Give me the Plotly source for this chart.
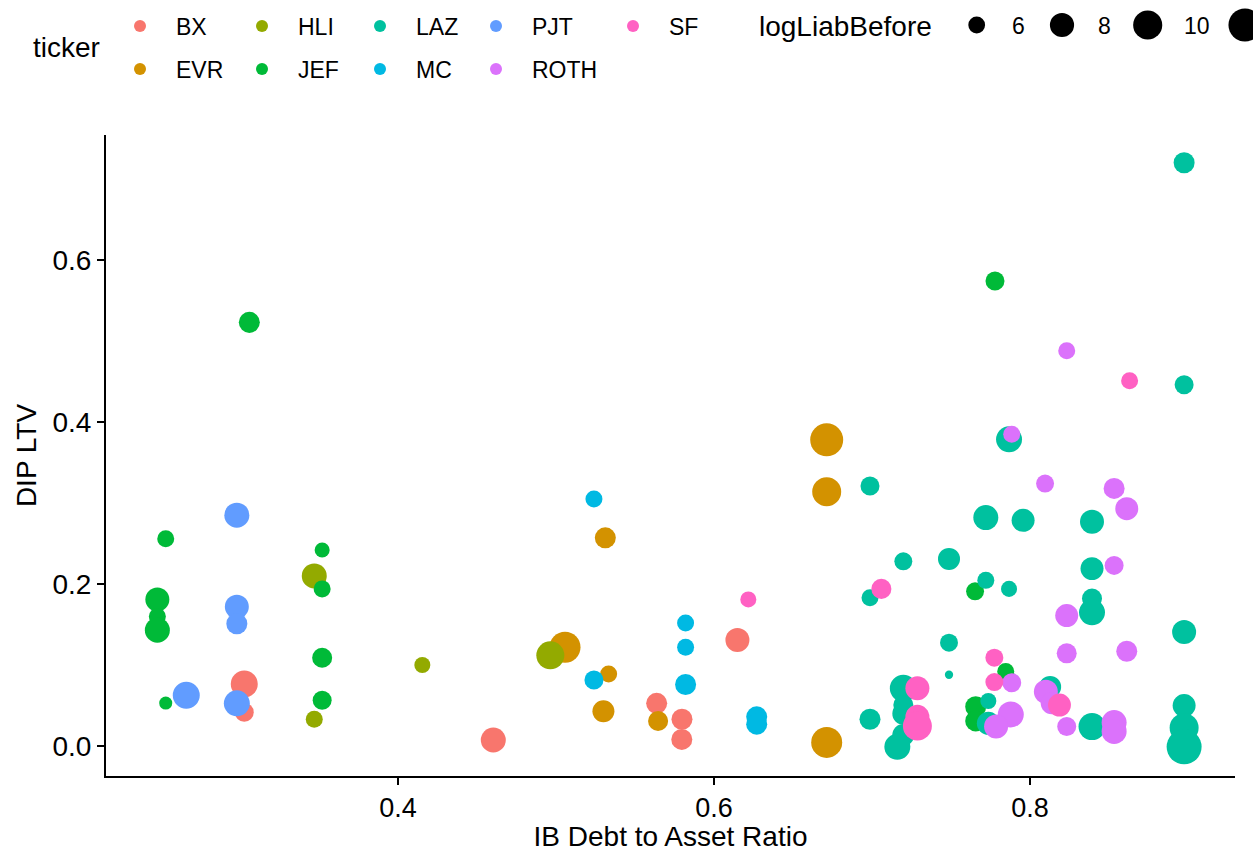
import numpy as np
import plotly.graph_objects as go

# ---------------- data ----------------
tickers = ["BX", "EVR", "HLI", "JEF", "LAZ", "MC", "PJT", "ROTH", "SF"]
colors = ["#F8766D", "#D39200", "#93AA00", "#00BA38", "#00C19F",
          "#00B9E3", "#619CFF", "#DB72FB", "#FF61C3"]

BX_x = [0.3027, 0.3027, 0.4603, 0.5637, 0.5797, 0.5796, 0.6148]
BX_y = [0.0765, 0.0416, 0.0074, 0.0527, 0.033, 0.0082, 0.131]
BX_s = [9.07, 6.47, 8.29, 6.99, 6.99, 6.99, 7.93]

EVR_x = [0.5312, 0.5057, 0.5333, 0.530, 0.5646, 0.6713, 0.6713, 0.6713]
EVR_y = [0.257, 0.122, 0.0889, 0.043, 0.0309, 0.378, 0.314, 0.0045]
EVR_s = [6.99, 10.9, 6.04, 7.28, 6.72, 11.96, 9.95, 10.91]

HLI_x = [0.347, 0.4154, 0.347, 0.4964]
HLI_y = [0.210, 0.100, 0.033, 0.112]
HLI_s = [8.29, 5.86, 6.04, 9.5]

JEF_x = [0.253, 0.2477, 0.2477, 0.2477, 0.253, 0.3059, 0.352, 0.352, 0.352, 0.352,
         0.7778, 0.7652, 0.7846, 0.7852, 0.7656, 0.7656]
JEF_y = [0.256, 0.181, 0.160, 0.143, 0.053, 0.523, 0.242, 0.194, 0.109, 0.0564,
         0.574, 0.191, 0.092, 0.085, 0.0486, 0.031]
JEF_s = [6.04, 7.93, 6.04, 8.29, 5.45, 6.99, 5.7, 6.04, 6.72, 6.47,
         6.47, 6.24, 6.04, 6.04, 6.99, 6.99]

LAZ_x = [0.6987, 0.7198, 0.7487, 0.6987, 0.7487, 0.7487, 0.7198, 0.7198, 0.7198, 0.7198,
         0.716, 0.6987, 0.7867, 0.772, 0.7956, 0.8392, 0.8392, 0.772, 0.7867, 0.8392,
         0.8392, 0.8975, 0.7736, 0.7736, 0.8127, 0.8392, 0.8975, 0.8975, 0.8975, 0.8975,
         0.8975]
LAZ_y = [0.321, 0.228, 0.231, 0.183, 0.1276, 0.088, 0.0712, 0.0506, 0.040, 0.0136,
         -0.001, 0.033, 0.3786, 0.282, 0.2786, 0.277, 0.219, 0.2045, 0.194, 0.182,
         0.165, 0.1407, 0.0556, 0.028, 0.073, 0.024, 0.050, 0.0226, -0.001, 0.720,
         0.446]
LAZ_s = [6.47, 6.24, 7.28, 6.04, 6.24, 5.2, 9.07, 6.72, 7.28, 7.28,
         8.67, 6.99, 8.67, 8.29, 7.59, 7.93, 7.59, 6.04, 5.86, 6.72,
         8.67, 7.93, 5.86, 7.59, 7.28, 9.07, 7.59, 9.95, 13.1, 6.99,
         6.47]

MC_x = [0.524, 0.582, 0.582, 0.524, 0.582, 0.627, 0.627]
MC_y = [0.305, 0.152, 0.122, 0.0815, 0.076, 0.036, 0.027]
MC_s = [6.04, 6.04, 6.04, 6.47, 6.99, 6.99, 6.99]

PJT_x = [0.298, 0.298, 0.298, 0.266, 0.298]
PJT_y = [0.285, 0.172, 0.151, 0.0626, 0.0527]
PJT_s = [8.29, 7.93, 6.99, 9.07, 8.67]

ROTH_x = [0.7884, 0.8095, 0.8532, 0.8612, 0.8532, 0.8232, 0.8232, 0.8612, 0.7884, 0.7878,
          0.7785, 0.810, 0.8137, 0.8232, 0.8532, 0.8532, 0.8232]
ROTH_y = [0.385, 0.324, 0.318, 0.293, 0.223, 0.161, 0.1144, 0.117, 0.078, 0.039,
          0.024, 0.067, 0.0527, 0.024, 0.029, 0.018, 0.488]
ROTH_s = [6.04, 6.24, 6.99, 7.59, 6.47, 7.59, 6.72, 6.99, 6.47, 8.67,
          7.93, 7.93, 7.28, 6.47, 8.29, 8.29, 6.04]

SF_x = [0.6217, 0.7059, 0.7287, 0.7287, 0.7287, 0.7774, 0.7774, 0.8186, 0.863]
SF_y = [0.181, 0.194, 0.0712, 0.036, 0.0247, 0.109, 0.079, 0.0506, 0.451]
SF_s = [5.86, 6.72, 7.93, 7.93, 9.95, 6.24, 6.24, 7.59, 6.04]

size_breaks = [6, 8, 10, 12]

series = {
    "BX": (BX_x, BX_y, BX_s), "EVR": (EVR_x, EVR_y, EVR_s),
    "HLI": (HLI_x, HLI_y, HLI_s), "JEF": (JEF_x, JEF_y, JEF_s),
    "LAZ": (LAZ_x, LAZ_y, LAZ_s), "MC": (MC_x, MC_y, MC_s),
    "PJT": (PJT_x, PJT_y, PJT_s), "ROTH": (ROTH_x, ROTH_y, ROTH_s),
    "SF": (SF_x, SF_y, SF_s),
}


def diam(v):
    v = np.asarray(v, dtype=float)
    return 8.3 + 9.5 * np.sqrt(np.clip(v - 5.2, 0, None))


FONT = "Liberation Sans, Arial, Helvetica, sans-serif"
W, H = 1253, 852
L, R, T, B = 106, 18, 135, 76
pw, ph = W - L - R, H - T - B

row1 = ["BX", "HLI", "LAZ", "PJT", "SF"]
colw = {"BX": 45, "EVR": 45, "HLI": 41, "JEF": 41, "LAZ": 39, "MC": 39,
        "PJT": 60, "ROTH": 60, "SF": 40}

fig = go.Figure()
for t, c in zip(tickers, colors):
    x, y, s = series[t]
    fig.add_trace(go.Scatter(
        x=x, y=y, mode="markers", name=t,
        legend="legend" if t in row1 else "legend2",
        legendwidth=colw[t],
        marker=dict(color=c, size=diam(s), sizemode="diameter",
                    line=dict(width=0), opacity=1),
    ))

# order legend entries column-major like the original
rank = {"BX": 1, "HLI": 2, "LAZ": 3, "PJT": 4, "SF": 5,
        "EVR": 1, "JEF": 2, "MC": 3, "ROTH": 4}
for tr in fig.data:
    tr.legendrank = rank[tr.name]


def px2paper(px, py):
    return (px - L) / pw, (H - B - py) / ph


shapes = []
annotations = []
# size legend (drawn manually so the dots keep their true size)
size_cx = [976.7, 1062.0, 1147.7, 1245.0]
size_lx = [1018, 1104, 1197]
cy = 25
for i, v in enumerate(size_breaks):
    d = float(diam(v))
    xp, yp = px2paper(size_cx[i], cy)
    shapes.append(dict(type="circle", xref="paper", yref="paper",
                       xsizemode="pixel", ysizemode="pixel",
                       xanchor=xp, yanchor=yp,
                       x0=-d / 2, x1=d / 2, y0=-d / 2, y1=d / 2,
                       fillcolor="black", line=dict(width=0), layer="above"))
for i, v in enumerate(size_breaks[:3]):
    xp, yp = px2paper(size_lx[i], cy + 1)
    annotations.append(dict(text=str(v), xref="paper", yref="paper", x=xp, y=yp,
                            xanchor="center", yanchor="middle", showarrow=False,
                            font=dict(size=23, color="black", family=FONT)))
xp, yp = px2paper(757, 27)
annotations.append(dict(text="logLiabBefore", xref="paper", yref="paper", x=xp, y=yp,
                        xanchor="left", yanchor="middle", showarrow=False,
                        font=dict(size=28, color="black", family=FONT)))
xp, yp = px2paper(31, 48)
annotations.append(dict(text="ticker", xref="paper", yref="paper", x=xp, y=yp,
                        xanchor="left", yanchor="middle", showarrow=False,
                        font=dict(size=28, color="black", family=FONT)))

leg_common = dict(orientation="h", xref="container", yref="container",
                  xanchor="left", yanchor="middle", itemsizing="constant",
                  itemwidth=62,
                  font=dict(size=23, color="black", family=FONT),
                  bgcolor="rgba(0,0,0,0)", borderwidth=0, entrywidthmode="pixels",
                  traceorder="normal")

fig.update_layout(
    width=W, height=H,
    margin=dict(l=L, r=R, t=T, b=B, autoexpand=False),
    paper_bgcolor="white", plot_bgcolor="white",
    font=dict(family=FONT, color="black"),
    showlegend=True,
    legend=dict(x=104 / W, y=1 - 26 / H, **leg_common),
    legend2=dict(x=104 / W, y=1 - 69 / H, **leg_common),
    shapes=shapes, annotations=annotations,
    xaxis=dict(range=[0.2152, 0.9297], tickvals=[0.4, 0.6, 0.8], tickformat=".1f",
               showgrid=False, zeroline=False, showline=True, linecolor="black",
               linewidth=2, ticks="outside", ticklen=7, tickwidth=2, tickcolor="black",
               tickfont=dict(size=27, color="black", family=FONT),
               title=dict(text="IB Debt to Asset Ratio", standoff=8,
                          font=dict(size=28, color="black", family=FONT))),
    yaxis=dict(range=[-0.037, 0.7543], tickvals=[0.0, 0.2, 0.4, 0.6], tickformat=".1f",
               showgrid=False, zeroline=False, showline=True, linecolor="black",
               linewidth=2, ticks="outside", ticklen=7, tickwidth=2, tickcolor="black",
               tickfont=dict(size=28, color="black", family=FONT),
               title=dict(text="DIP LTV", standoff=8,
                          font=dict(size=28, color="black", family=FONT))),
)

fig.write_html("out.html")
